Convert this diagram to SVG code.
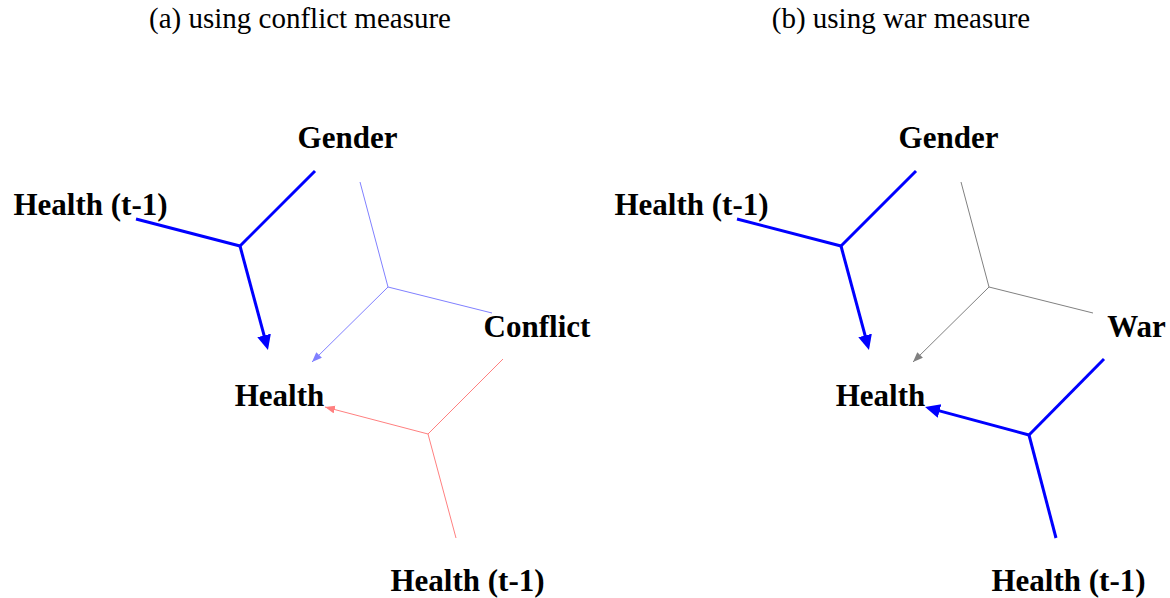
<svg xmlns="http://www.w3.org/2000/svg" width="1170" height="598" viewBox="0 0 1170 598">
  <style>
    .title { font-family: "Liberation Serif", "Times New Roman", serif; font-size: 29px; fill: #000; text-anchor: middle; }
    .label { font-family: "Liberation Serif", "Times New Roman", serif; font-size: 31px; font-weight: bold; fill: #000; text-anchor: middle; }
    .edge { fill: none; stroke-linecap: butt; stroke-linejoin: miter; }
    .strong { stroke: #0000ff; stroke-width: 3; }
    .pos { stroke: #8080ff; stroke-width: 1; }
    .neg { stroke: #ff8080; stroke-width: 1; }
    .null { stroke: #808080; stroke-width: 1; }
  </style>
  <defs>
    <marker id="head-strong" markerUnits="userSpaceOnUse" markerWidth="16" markerHeight="15" refX="2" refY="7" orient="auto">
      <path d="M0,0 L15,7 L0,14 z" fill="#0000ff"/>
    </marker>
    <marker id="head-pos" markerUnits="userSpaceOnUse" markerWidth="11" markerHeight="9" refX="10" refY="4" orient="auto">
      <path d="M0,0 L10,4 L0,8 z" fill="#8080ff"/>
    </marker>
    <marker id="head-neg" markerUnits="userSpaceOnUse" markerWidth="11" markerHeight="9" refX="10" refY="4" orient="auto">
      <path d="M0,0 L10,4 L0,8 z" fill="#ff8080"/>
    </marker>
    <marker id="head-null" markerUnits="userSpaceOnUse" markerWidth="11" markerHeight="9" refX="10" refY="4" orient="auto">
      <path d="M0,0 L10,4 L0,8 z" fill="#808080"/>
    </marker>
  </defs>

  <!-- panel titles -->
  <text class="title" x="300" y="28">(a) using conflict measure</text>
  <text class="title" x="901" y="28">(b) using war measure</text>

  <!-- connectors: hyperedges meeting at a junction point -->
  <g id="connectors">
    <!-- panel (a) -->
    <path class="edge strong" d="M315,171 L240,246"/>
    <path class="edge strong" d="M136,219 L240,246"/>
    <path class="edge strong" d="M240,246 L264.6,337.4" marker-end="url(#head-strong)"/>
    <path class="edge pos" d="M360,182 L388,287"/>
    <path class="edge pos" d="M492,313 L388,287"/>
    <path class="edge pos" d="M388,287 L312,362" marker-end="url(#head-pos)"/>
    <path class="edge neg" d="M503,359 L428,434"/>
    <path class="edge neg" d="M456,538 L428,434"/>
    <path class="edge neg" d="M428,434 L325,407" marker-end="url(#head-neg)"/>
    <!-- panel (b) -->
    <path class="edge strong" d="M916,171 L841,246"/>
    <path class="edge strong" d="M737,219 L841,246"/>
    <path class="edge strong" d="M841,246 L865.6,337.4" marker-end="url(#head-strong)"/>
    <path class="edge null" d="M961,182 L989,287"/>
    <path class="edge null" d="M1093,313 L989,287"/>
    <path class="edge null" d="M989,287 L913,362" marker-end="url(#head-null)"/>
    <path class="edge strong" d="M1104,359 L1029,435"/>
    <path class="edge strong" d="M1056,538 L1029,435"/>
    <path class="edge strong" d="M1029,435 L937.6,410.4" marker-end="url(#head-strong)"/>
  </g>

  <!-- panel (a) nodes -->
  <g id="a-gender"><text class="label" x="347.5" y="148">Gender</text></g>
  <g id="a-health-lag-top"><text class="label" x="90.5" y="215">Health (t-1)</text></g>
  <g id="a-conflict"><text class="label" x="537" y="337">Conflict</text></g>
  <g id="a-health"><text class="label" x="279.5" y="406">Health</text></g>
  <g id="a-health-lag-bottom"><text class="label" x="467.5" y="591">Health (t-1)</text></g>

  <!-- panel (b) nodes -->
  <g id="b-gender"><text class="label" x="948.5" y="148">Gender</text></g>
  <g id="b-health-lag-top"><text class="label" x="691.5" y="215">Health (t-1)</text></g>
  <g id="b-war"><text class="label" x="1136.5" y="337">War</text></g>
  <g id="b-health"><text class="label" x="880.5" y="406">Health</text></g>
  <g id="b-health-lag-bottom"><text class="label" x="1068.5" y="591">Health (t-1)</text></g>
</svg>
